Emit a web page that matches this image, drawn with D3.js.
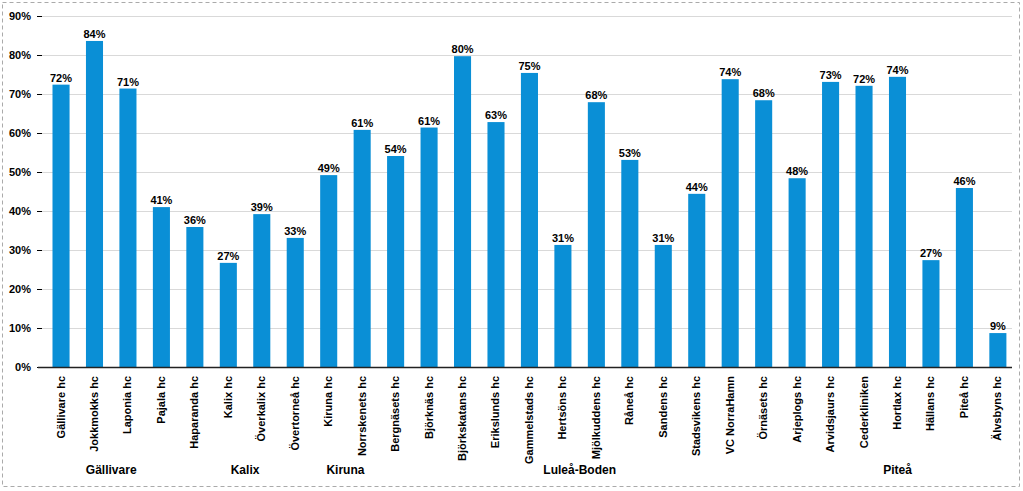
<!DOCTYPE html>
<html><head><meta charset="utf-8">
<script src="https://cdn.jsdelivr.net/npm/d3@7"></script>
<style>body{margin:0;background:#fff}svg{display:block}text{font-family:"Liberation Sans",Arial,sans-serif;font-weight:bold}</style>
</head><body>
<script>
const categories = ["Gällivare hc","Jokkmokks hc","Laponia hc","Pajala hc","Haparanda hc","Kalix hc","Överkalix hc","Övertorneå hc","Kiruna hc","Norrskenets hc","Bergnäsets hc","Björknäs hc","Björkskatans hc","Erikslunds hc","Gammelstads hc","Hertsöns hc","Mjölkuddens hc","Råneå hc","Sandens hc","Stadsvikens hc","VC NorraHamn","Örnäsets hc","Arjeplogs hc","Arvidsjaurs hc","Cederkliniken","Hortlax hc","Hällans hc","Piteå hc","Älvsbyns hc"];
const values = [0.724,0.836,0.714,0.410,0.359,0.267,0.392,0.331,0.492,0.608,0.541,0.614,0.797,0.628,0.754,0.313,0.679,0.531,0.313,0.444,0.738,0.684,0.484,0.731,0.721,0.744,0.274,0.459,0.087];
const groups = ["Gällivare","Kalix","Kiruna","Luleå-Boden","Piteå"];
const groupStart = [0,4,8,10,22];
const groupEnd = [3,7,9,21,28];
const yTicks = [0,0.1,0.2,0.3,0.4,0.5,0.6,0.7,0.8,0.9];

const W=1023,H=491;
const svg=d3.select("body").append("svg").attr("width",W).attr("height",H);
svg.append("rect").attr("x",2.5).attr("y",2.5).attr("width",1017).attr("height",484)
  .attr("fill","none").attr("stroke","#aaa").attr("stroke-dasharray","4,3");

const x=d3.scaleBand().domain(categories).range([44.3,1014.6]).paddingInner(0.49).paddingOuter(0.245);
const y=d3.scaleLinear().domain([0,0.9]).range([367,16]);

// gridlines
svg.append("g").selectAll("line").data(yTicks.slice(1)).join("line")
  .attr("x1",42).attr("x2",1012).attr("y1",d=>Math.round(y(d))+0.5).attr("y2",d=>Math.round(y(d))+0.5)
  .attr("stroke","#d9d9d9");

// y axis
const ya=svg.append("g").attr("transform","translate(42,0)")
  .call(d3.axisLeft(y).tickValues(yTicks).tickFormat(d3.format(".0%")).tickSize(5).tickPadding(6));
ya.select(".domain").remove();
ya.selectAll("text").attr("font-size",11).attr("fill","#000").style("font-family","Liberation Sans, Arial, sans-serif").style("font-weight","bold");
ya.selectAll("line").attr("stroke","#000");

// bars
svg.append("g").selectAll("rect").data(values).join("rect")
  .attr("x",(d,i)=>x(categories[i])).attr("width",x.bandwidth())
  .attr("y",d=>y(d)).attr("height",d=>y(0)-y(d)).attr("fill","#0A8FD6");

// baseline
svg.append("line").attr("x1",38).attr("x2",1012).attr("y1",367.5).attr("y2",367.5).attr("stroke","#222").attr("stroke-width",1.5);

// value labels
svg.append("g").selectAll("text").data(values).join("text")
  .attr("x",(d,i)=>x(categories[i])+x.bandwidth()/2).attr("y",d=>y(d)-3)
  .attr("text-anchor","middle").attr("font-size",11).text(d=>d3.format(".0%")(d));

// x labels
svg.append("g").selectAll("text").data(categories).join("text")
  .attr("transform",d=>`translate(${x(d)+x.bandwidth()/2+3.5},376) rotate(-90)`)
  .attr("text-anchor","end").attr("font-size",11).text(d=>d);

// group labels
svg.append("g").selectAll("text").data(groups).join("text")
  .attr("x",(d,i)=>(x(categories[groupStart[i]])+x(categories[groupEnd[i]])+x.bandwidth())/2)
  .attr("y",474).attr("text-anchor","middle").attr("font-size",12).text(d=>d);
</script>
</body></html>
